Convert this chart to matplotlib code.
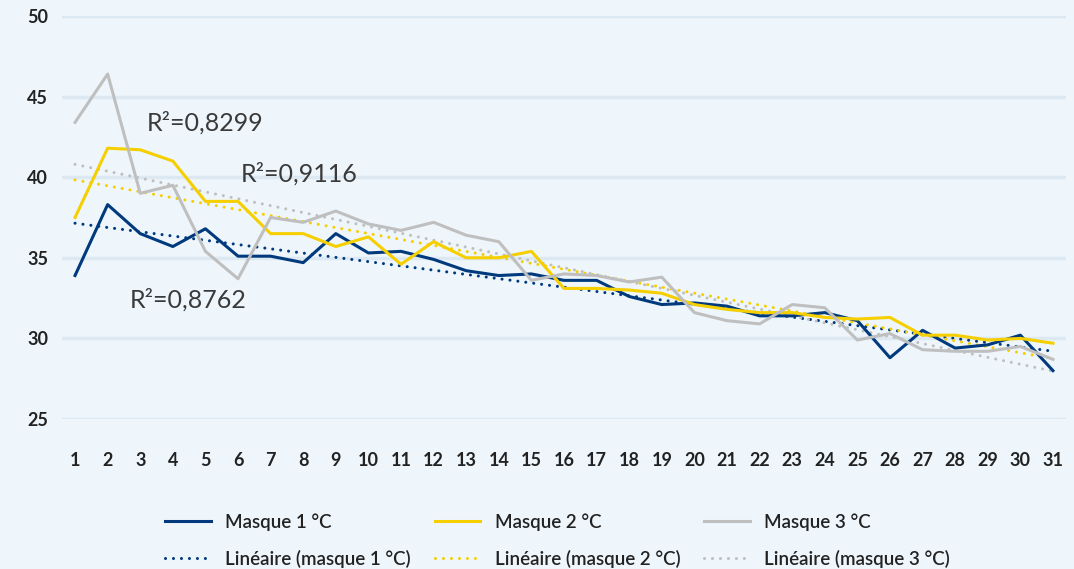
import numpy as np
import matplotlib.pyplot as plt

# days of the month
jours = np.arange(1, 32)

masque1 = [33.9, 38.3, 36.5, 35.7, 36.8, 35.1, 35.1, 34.7, 36.5, 35.3,
           35.4, 34.9, 34.2, 33.9, 34.0, 33.6, 33.6, 32.6, 32.1, 32.2,
           32.0, 31.4, 31.4, 31.6, 31.1, 28.8, 30.5, 29.4, 29.6, 30.2, 28.0]
masque2 = [37.5, 41.8, 41.7, 41.0, 38.5, 38.5, 36.5, 36.5, 35.7, 36.3,
           34.6, 36.0, 35.0, 35.0, 35.4, 33.1, 33.1, 33.0, 32.8, 32.1,
           31.8, 31.6, 31.6, 31.3, 31.2, 31.3, 30.2, 30.2, 29.9, 30.0, 29.7]
masque3 = [43.4, 46.4, 39.0, 39.5, 35.4, 33.7, 37.5, 37.2, 37.9, 37.1,
           36.7, 37.2, 36.4, 36.0, 33.6, 34.0, 33.9, 33.5, 33.8, 31.6,
           31.1, 30.9, 32.1, 31.9, 29.9, 30.3, 29.3, 29.2, 29.2, 29.5, 28.7]

r2_labels = ["R²=0,8762", "R²=0,8299", "R²=0,9116"]

couleurs = ["#003A7D", "#F5CF00", "#BFBFBF"]
noms = ["Masque 1 °C", "Masque 2 °C", "Masque 3 °C"]
noms_lin = ["Linéaire (masque 1 °C)", "Linéaire (masque 2 °C)", "Linéaire (masque 3 °C)"]

plt.rcParams['font.family'] = ['Lato', 'DejaVu Sans']
bg = "#EEF6FC"

fig = plt.figure(figsize=(10.74, 5.69), dpi=100, facecolor=bg)
ax = fig.add_axes([62/1074, 1-419/569, (1066-62)/1074, (419-16)/569])
ax.set_facecolor(bg)

handles = []
for serie, c, nom, nom_lin in zip([masque1, masque2, masque3], couleurs, noms, noms_lin):
    h1, = ax.plot(jours, serie, color=c, lw=2.2, label=nom, zorder=3)
    a, b = np.polyfit(jours, serie, 1)
    h2, = ax.plot(jours, a*jours + b, color=c, lw=2.2, ls=(0, (0.01, 2.6)),
                  dash_capstyle='round', label=nom_lin, zorder=2)
    handles += [h1, h2]

# R² annotations
ax.text(2.69, 31.93, r2_labels[0], fontsize=18, color="#3a3a3a", va='baseline')
ax.text(3.21, 42.88, r2_labels[1], fontsize=18, color="#3a3a3a", va='baseline')
ax.text(6.09, 39.72, r2_labels[2], fontsize=18, color="#3a3a3a", va='baseline')

ax.set_xlim(0.6, 31.4)
ax.set_ylim(25, 50)
ax.set_xticks(jours)
ax.set_yticks([25, 30, 35, 40, 45, 50])
ax.grid(axis='y', color="#DCE8F2", lw=2.5, zorder=0)
ax.set_axisbelow(True)
for s in ax.spines.values():
    s.set_visible(False)
ax.tick_params(axis='both', length=0, labelsize=13, labelcolor="#222222")
ax.tick_params(axis='y', pad=10)
ax.tick_params(axis='x', pad=24)
for lab in ax.get_xticklabels() + ax.get_yticklabels():
    lab.set_fontweight('bold')

leg = fig.legend(handles=handles, loc='center', bbox_to_anchor=(0.519, 0.05),
                 ncol=3, frameon=False, handlelength=2.45, handletextpad=0.75,
                 columnspacing=1.28, labelspacing=1.03,
                 prop={'size': 13.5, 'weight': 'semibold'})
for t in leg.get_texts():
    t.set_color("#222222")

plt.savefig("out.png", dpi=100, facecolor=bg)
